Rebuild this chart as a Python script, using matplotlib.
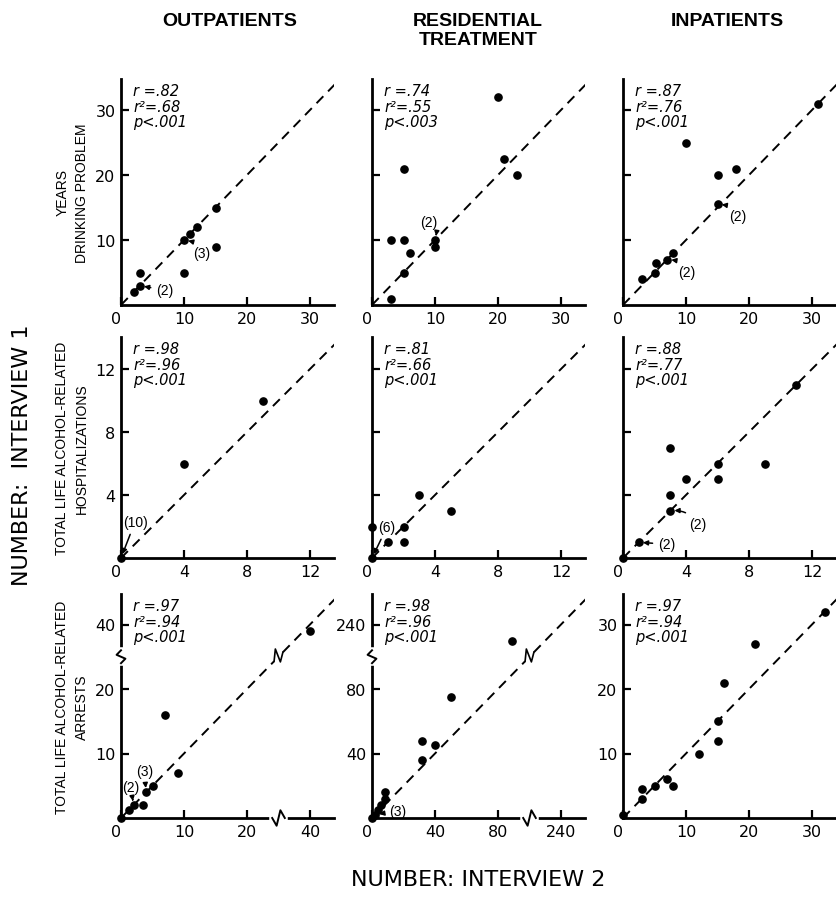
import matplotlib.pyplot as plt
import numpy as np

W, H = 836, 903

# ---- data: x = interview 2, y = interview 1 ----
# row 1: years drinking problem
out_years_i2 = [2, 3, 3, 10, 10, 11, 12, 15, 15]
out_years_i1 = [2, 3, 5, 5, 10, 11, 12, 15, 9]
res_years_i2 = [3, 3, 5, 5, 5, 6, 10, 10, 20, 21, 23]
res_years_i1 = [1, 10, 10, 21, 5, 8, 10, 9, 32, 22.5, 20]
inp_years_i2 = [3, 5, 5.2, 7, 8, 10, 15, 18, 15, 31]
inp_years_i1 = [4, 5, 6.4, 7, 8, 25, 20, 21, 15.5, 31]

# row 2: hospitalizations
out_hosp_i2 = [0, 4, 9]
out_hosp_i1 = [0, 6, 10]
res_hosp_i2 = [0, 0, 1, 2, 2, 3, 5]
res_hosp_i1 = [0, 2, 1, 2, 1, 4, 3]
inp_hosp_i2 = [0, 1, 3, 3, 3, 4, 6, 6, 9, 11]
inp_hosp_i1 = [0, 1, 3, 4, 7, 5, 6, 5, 6, 11]

# row 3: arrests
out_arr_i2 = [0, 1.2, 2, 3.5, 4, 5, 9, 7, 40]
out_arr_i1 = [0, 1.2, 2, 2, 4, 5, 7, 16, 39]
res_arr_i2 = [0, 2, 4, 6, 8, 8, 32, 32, 40, 50, 89]
res_arr_i1 = [0, 2, 5, 8, 12, 16, 36, 48, 45, 75, 230]
inp_arr_i2 = [0, 3, 3, 5, 7, 8, 12, 15, 15, 16, 21, 32]
inp_arr_i1 = [0.5, 3, 4.5, 5, 6, 5, 10, 12, 15, 21, 27, 32]

stats = [
    [(".82", ".68", ".001"), (".74", ".55", ".003"), (".87", ".76", ".001")],
    [(".98", ".96", ".001"), (".81", ".66", ".001"), (".88", ".77", ".001")],
    [(".97", ".94", ".001"), (".98", ".96", ".001"), (".97", ".94", ".001")],
]

col_titles = ["OUTPATIENTS", "RESIDENTIAL\nTREATMENT", "INPATIENTS"]
row_titles = ["YEARS\nDRINKING PROBLEM",
              "TOTAL LIFE ALCOHOL-RELATED\nHOSPITALIZATIONS",
              "TOTAL LIFE ALCOHOL-RELATED\nARRESTS"]

row_ticks = [[0, 10, 20, 30], [0, 4, 8, 12]]
arrest_tick_labels = [["0", "10", "20", "40"], ["0", "40", "80", "240"], ["0", "10", "20", "30"]]
# (scale per tick, value above which the upper segment is used, value at tick 3)
arrest_scales = [(10, 30, 40), (40, 120, 240), (10, None, None)]

# annotations: (row, col, x, y, text, dx px, dy px, rad)
notes = [
    (0, 0, 10, 10, "(3)", 18, -13, 0.3),
    (0, 0, 3, 3, "(2)", 25, -5, 0.0),
    (0, 1, 10, 10, "(2)", -6, 18, -0.4),
    (0, 2, 15, 15.5, "(2)", 20, -12, 0.3),
    (0, 2, 7, 7, "(2)", 20, -12, 0.3),
    (1, 0, 0, 0, "(10)", 14, 36, 0.0),
    (1, 1, 0, 0, "(6)", 15, 31, 0.0),
    (1, 2, 3, 3, "(2)", 28, -13, 0.3),
    (1, 2, 1, 1, "(2)", 28, -2, 0.0),
    (2, 0, 2, 2, "(2)", -3, 18, 0.0),
    (2, 0, 4, 4, "(3)", -2, 21, 0.0),
    (2, 1, 2, 2, "(3)", 23, 4, 0.0),
]

data = [
    [(out_years_i2, out_years_i1), (res_years_i2, res_years_i1), (inp_years_i2, inp_years_i1)],
    [(out_hosp_i2, out_hosp_i1), (res_hosp_i2, res_hosp_i1), (inp_hosp_i2, inp_hosp_i1)],
    [(out_arr_i2, out_arr_i1), (res_arr_i2, res_arr_i1), (inp_arr_i2, inp_arr_i1)],
]


def to_pos(values, scale, cut, top_val):
    out = []
    for v in values:
        if cut is not None and v > cut:
            out.append(3 + (v - top_val) / scale)
        else:
            out.append(v / scale)
    return np.array(out)


plt.rcParams['font.family'] = ['DejaVu Sans']
cond = ['DejaVu Sans Condensed', 'Liberation Sans Narrow', 'Liberation Sans']

fig = plt.figure(figsize=(W / 100, H / 100), dpi=100)


def px_axes(left, top, w, h):
    return fig.add_axes([left / W, 1 - (top + h) / H, w / W, h / H])


col_left = [121, 372, 623]
row_top = [80, 338, 595]
row_bot = [306, 559, 819]
panel_w = 213
px_x = [6.3, 15.75, 63]
px_y = [6.5, 15.75, 64.5]

axes = {}
for r in range(3):
    for c in range(3):
        h = row_bot[r] - row_top[r]
        ax = px_axes(col_left[c], row_top[r], panel_w, h)
        axes[(r, c)] = ax
        ax.set_xlim(0, panel_w / px_x[r])
        ax.set_ylim(0, h / px_y[r])
        for s in ['top', 'right']:
            ax.spines[s].set_visible(False)
        for s in ['left', 'bottom']:
            ax.spines[s].set_linewidth(2)
        ax.tick_params(direction='in', length=6, width=1.6, labelsize=11.5, pad=4)

        xs, ys = data[r][c]
        if r < 2:
            ticks = row_ticks[r]
            ax.set_xticks(ticks)
            ax.set_xticklabels([str(t) for t in ticks])
            ax.set_yticks(ticks[1:])
            if c == 0:
                ax.set_yticklabels([str(t) for t in ticks[1:]])
            else:
                ax.set_yticklabels([])
            px_, py_ = np.array(xs), np.array(ys)
        else:
            scale, cut, top_val = arrest_scales[c]
            ax.set_xticks([0, 1, 2, 3])
            ax.set_xticklabels(arrest_tick_labels[c])
            ax.set_yticks([1, 2, 3])
            ax.set_yticklabels(arrest_tick_labels[c][1:])
            px_, py_ = to_pos(xs, scale, cut, top_val), to_pos(ys, scale, cut, top_val)
        ax.get_xticklabels()[0].set_horizontalalignment('right')

        # identity line
        lim = 40
        if r == 2 and c < 2:
            b = 2.5
            ax.plot([0, b - 0.07], [0, b - 0.07], ls=(0, (5, 3.5)), color='black', lw=1.4)
            ax.plot([b + 0.07, lim], [b + 0.07, lim], ls=(0, (5, 3.5)), color='black', lw=1.4)
            ax.plot([b - 0.07, b - 0.05, b + 0.03, b + 0.07],
                    [b - 0.07, b + 0.12, b - 0.08, b + 0.07], color='black', lw=1.2)
            # axis breaks
            ax.plot([b - 0.1, b + 0.1], [0, 0], color='white', lw=4, clip_on=False, zorder=5)
            ax.plot([b - 0.1, b - 0.03, b + 0.03, b + 0.1], [0, -0.12, 0.12, 0],
                    color='black', lw=1.4, clip_on=False, zorder=6)
            ax.plot([0, 0], [b - 0.1, b + 0.1], color='white', lw=4, clip_on=False, zorder=5)
            ax.plot([0, 0.07, -0.07, 0], [b - 0.1, b - 0.03, b + 0.03, b + 0.1],
                    color='black', lw=1.4, clip_on=False, zorder=6)
        else:
            ax.plot([0, lim], [0, lim], ls=(0, (5, 3.5)), color='black', lw=1.4)

        ax.plot(px_, py_, 'o', color='black', ms=5.2, clip_on=False, zorder=4)

        rr, r2, p = stats[r][c]
        ax.annotate("r =" + rr + "\nr\u00b2=" + r2 + "\np<" + p, xy=(0, 1), xycoords='axes fraction',
                    xytext=(12, -4), textcoords='offset pixels', ha='left', va='top',
                    fontsize=10.5, style='italic', linespacing=1.05)

for r, c, x, y, txt, dx, dy, rad in notes:
    ax = axes[(r, c)]
    if r == 2:
        scale, cut, top_val = arrest_scales[c]
        x = to_pos([x], scale, cut, top_val)[0]
        y = to_pos([y], scale, cut, top_val)[0]
    ax.annotate(txt, xy=(x, y), xytext=(dx, dy), textcoords='offset pixels',
                ha='center', va='center', fontsize=10, family=cond,
                arrowprops=dict(arrowstyle='-|>', color='black', lw=1.1, mutation_scale=7,
                                shrinkA=2, shrinkB=3, connectionstyle='arc3,rad=%s' % rad))

# column titles
col_center = [230, 478, 727]
for c in range(3):
    fig.text(col_center[c] / W, 1 - 13 / H, col_titles[c], ha='center', va='top',
             fontsize=14, fontweight='bold', family=cond, linespacing=1.15)

# row titles
for r in range(3):
    yc = (row_top[r] + row_bot[r]) / 2
    fig.text(72 / W, 1 - yc / H, row_titles[r], rotation=90, ha='center', va='center',
             fontsize=10, family=cond, linespacing=1.5)

fig.text(22 / W, 1 - 455 / H, "NUMBER:  INTERVIEW 1", rotation=90, ha='center', va='center',
         fontsize=16)
fig.text(478 / W, 1 - 880 / H, "NUMBER: INTERVIEW 2", ha='center', va='center',
         fontsize=16)

fig.savefig("out.png", dpi=100)
